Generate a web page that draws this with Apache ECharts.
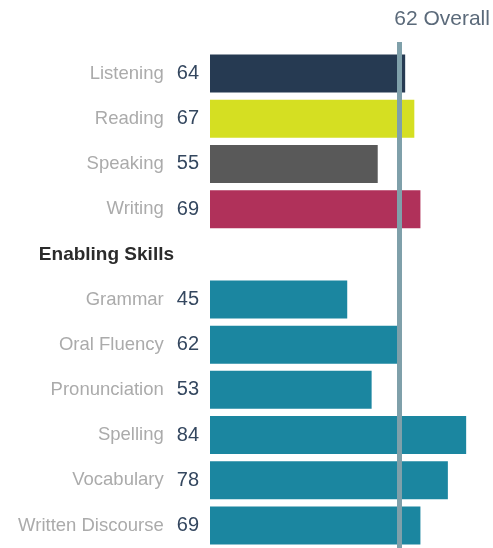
<!DOCTYPE html>
<html>
<head>
<meta charset="utf-8">
<script src="https://cdn.jsdelivr.net/npm/echarts@6/dist/echarts.min.js"></script>
<style>
html,body{margin:0;padding:0;background:#fff;}
#c{width:493px;height:548px;}
</style>
</head>
<body>
<div id="c"></div>
<script>
// ---- data ----
var categories = ['Listening', 'Reading', 'Speaking', 'Writing', 'Enabling Skills',
  'Grammar', 'Oral Fluency', 'Pronunciation', 'Spelling', 'Vocabulary', 'Written Discourse'];
var scores = [64, 67, 55, 69, null, 45, 62, 53, 84, 78, 69];
var sectionHeader = 'Enabling Skills';
var overallScore = 62;
var overallLabel = 'Overall';

// ---- style ----
var barColors = ['#263a52', '#d5df22', '#595959', '#b0315a', null,
  '#1b86a0', '#1b86a0', '#1b86a0', '#1b86a0', '#1b86a0', '#1b86a0'];
var xMax = 92.8;
var font = '"Liberation Sans", Arial, sans-serif';

var chart = echarts.init(document.getElementById('c'), null, {renderer: 'canvas'});

var barData = scores.map(function (v, i) {
  return v == null ? '-' : {value: v, itemStyle: {color: barColors[i]}};
});

chart.setOption({
  animation: false,
  backgroundColor: '#ffffff',
  grid: [
    {left: 210, width: 283, top: 51, height: 503, containLabel: false},
    {left: 210, width: 283, top: 42, bottom: 0, containLabel: false}
  ],
  xAxis: [
    {type: 'value', gridIndex: 0, min: 0, max: xMax, show: false},
    {type: 'value', gridIndex: 1, min: 0, max: xMax, show: false}
  ],
  yAxis: [
    {
      type: 'category', gridIndex: 0, data: categories, inverse: true,
      axisLine: {show: false}, axisTick: {show: false}, splitLine: {show: false},
      axisLabel: {
        margin: 11,
        fontFamily: font,
        formatter: function (value, idx) {
          if (value === sectionHeader) return '{h|' + value + '}';
          return '{n|' + value + '}{v|' + scores[idx] + '}';
        },
        rich: {
          n: {fontSize: 18.5, color: '#ababab', fontFamily: font, padding: [0, 13, 0, 0]},
          v: {fontSize: 20, color: '#34475f', fontFamily: font},
          h: {fontSize: 19, color: '#2b2b2b', fontWeight: 'bold', fontFamily: font, padding: [0, 25, 0, 0]}
        }
      }
    },
    {type: 'value', gridIndex: 1, min: 0, max: 1, show: false}
  ],
  series: [
    {
      type: 'bar', xAxisIndex: 0, yAxisIndex: 0,
      data: barData, barWidth: 38, silent: true
    },
    {
      type: 'scatter', xAxisIndex: 1, yAxisIndex: 1, data: [], z: 5,
      markLine: {
        silent: true, symbol: 'none', animation: false,
        lineStyle: {color: '#7fa0aa', width: 5, type: 'solid'},
        label: {
          show: true, position: 'end', distance: 12,
          formatter: '{a|' + overallScore + ' ' + overallLabel + '}',
          rich: {a: {fontSize: 21, color: '#5b6a7a', fontFamily: font, padding: [0, 0, 0, 86]}}
        },
        data: [{xAxis: overallScore}]
      }
    }
  ]
});
</script>
</body>
</html>
